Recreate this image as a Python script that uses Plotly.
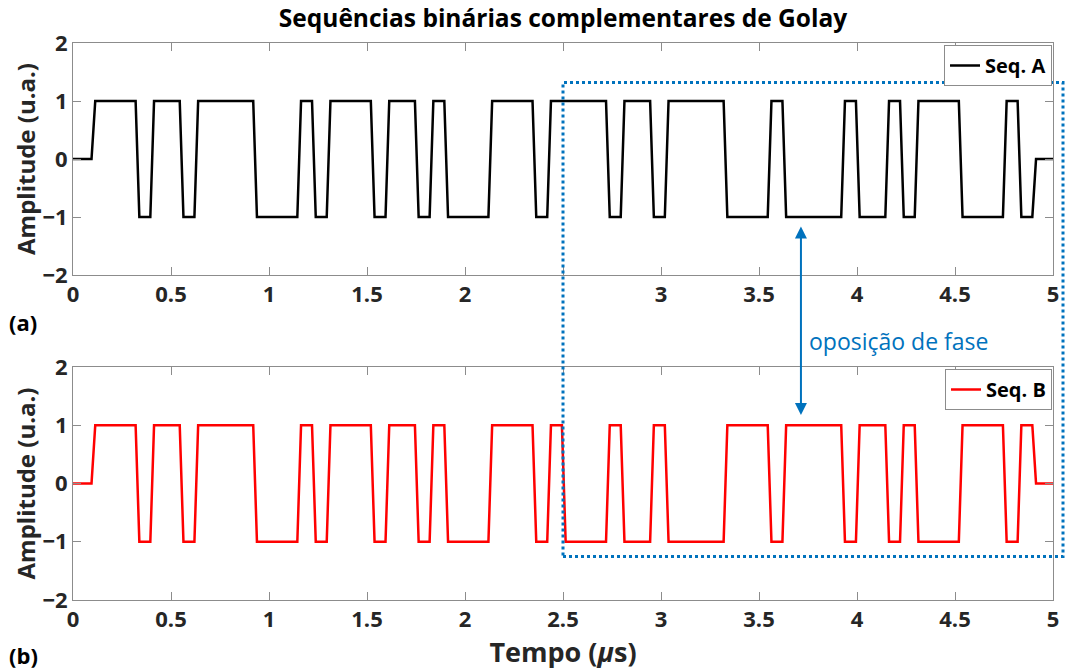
import plotly.graph_objects as go
from plotly.subplots import make_subplots

# Golay complementary pair, 64 chips each (+1 / -1)
seq_a = [1, 1, 1, -1, 1, 1, -1, 1, 1, 1, 1, -1, -1, -1, 1, -1,
         1, 1, 1, -1, 1, 1, -1, 1, -1, -1, -1, 1, 1, 1, -1, 1,
         1, 1, 1, -1, 1, 1, -1, 1, 1, 1, 1, -1, -1, -1, 1, -1,
         -1, -1, -1, 1, -1, -1, 1, -1, 1, 1, 1, -1, -1, -1, 1, -1]
seq_b = [1, 1, 1, -1, 1, 1, -1, 1, 1, 1, 1, -1, -1, -1, 1, -1,
         1, 1, 1, -1, 1, 1, -1, 1, -1, -1, -1, 1, 1, 1, -1, 1,
         -1, -1, -1, 1, -1, -1, 1, -1, -1, -1, -1, 1, 1, 1, -1, 1,
         1, 1, 1, -1, 1, 1, -1, 1, -1, -1, -1, 1, 1, 1, -1, 1]

t_start = 0.104      # us, first chip edge
chip_width = 0.075   # us
edge_time = 0.019    # us, rise/fall time of each transition
t_end = 5.0
t_opposition = 2.5   # us, where the two sequences become opposite
t_arrow = 3.714      # us

x_ticks = [0, 0.5, 1, 1.5, 2, 2.5, 3, 3.5, 4, 4.5, 5]
x_ticklabels_a = ["0", "0.5", "1", "1.5", "2", "", "3", "3.5", "4", "4.5", "5"]
x_ticklabels_b = ["0", "0.5", "1", "1.5", "2", "2.5", "3", "3.5", "4", "4.5", "5"]
y_ticks = [-2, -1, 0, 1, 2]


def waveform(chips):
    xs = [0.0, t_start - edge_time / 2]
    ys = [0, 0]
    for i, v in enumerate(chips):
        xs += [t_start + i * chip_width + edge_time / 2,
               t_start + (i + 1) * chip_width - edge_time / 2]
        ys += [v, v]
    xs += [t_start + len(chips) * chip_width + edge_time / 2, t_end]
    ys += [0, 0]
    return xs, ys


FONT = "Open Sans"
TXT = "#262626"
AX = "#8c8c8c"
BLUE = "#0072BD"

W, H = 1065, 671
ML, MR, MT, MB = 73, 12, 43, 71
PW, PH = W - ML - MR, H - MT - MB


def px_to_paper_y(py):
    return (H - MB - py) / PH


def px_to_paper_x(px):
    return (px - ML) / PW


fig = make_subplots(rows=2, cols=1, vertical_spacing=0.0)

xa, ya = waveform(seq_a)
xb, yb = waveform(seq_b)
fig.add_trace(go.Scatter(x=xa, y=ya, mode="lines", name="Seq. A",
                         line=dict(color="black", width=2.5), legend="legend"),
              row=1, col=1)
fig.add_trace(go.Scatter(x=xb, y=yb, mode="lines", name="Seq. B",
                         line=dict(color="#ff0000", width=2.5), legend="legend2"),
              row=2, col=1)

tickfont = dict(family=FONT, size=22, color=TXT, weight="bold")
axis_common = dict(showgrid=False, zeroline=False, showline=True, linecolor=AX,
                   linewidth=1, mirror="allticks", ticks="inside", ticklen=8,
                   tickcolor=AX, tickfont=tickfont, automargin=False)

fig.update_xaxes(range=[0, t_end], tickvals=x_ticks, **axis_common)
fig.update_xaxes(ticktext=x_ticklabels_a, row=1, col=1)
fig.update_xaxes(ticktext=x_ticklabels_b, row=2, col=1,
                 title=dict(text="Tempo (<i>μ</i>s)", standoff=2,
                            font=dict(family=FONT, size=27, color=TXT, weight="bold")))
fig.update_yaxes(range=[-2, 2], tickvals=y_ticks, **axis_common,
                 title=dict(text="Amplitude (u.a.)", standoff=0,
                            font=dict(family=FONT, size=24, color=TXT, weight="bold")))

# panel heights in paper units
fig.layout.yaxis.domain = [px_to_paper_y(275), 1.0]
fig.layout.yaxis2.domain = [0.0, px_to_paper_y(367)]

legend_style = dict(font=dict(family=FONT, size=20, color="black", weight="bold"),
                    bgcolor="white", bordercolor=AX, borderwidth=1,
                    xanchor="right", yanchor="top", x=0.999,
                    itemwidth=30, tracegroupgap=0)

fig.update_layout(
    width=W, height=H,
    margin=dict(l=ML, r=MR, t=MT, b=MB),
    paper_bgcolor="white", plot_bgcolor="white",
    showlegend=True,
    legend=dict(**legend_style, y=px_to_paper_y(45)),
    legend2=dict(**legend_style, y=px_to_paper_y(369)),
    title=dict(text="Sequências binárias complementares de Golay",
               x=0.5, xref="paper", xanchor="center", y=0.973, yanchor="middle",
               font=dict(family=FONT, size=24.5, color="black", weight="bold")),
)

# dotted box around the second half of both sequences
fig.add_shape(type="rect", xref="paper", yref="paper",
              x0=t_opposition / t_end, x1=px_to_paper_x(1063),
              y0=px_to_paper_y(556.5), y1=px_to_paper_y(82.5),
              line=dict(color=BLUE, width=3, dash="3px,3px"))

# double-headed arrow between the panels
fig.add_annotation(x=t_arrow, y=px_to_paper_y(415), xref="x", yref="paper",
                   ax=0, ay=-190, axref="pixel", ayref="pixel",
                   text="", showarrow=True, arrowside="end+start",
                   arrowhead=2, arrowsize=1.2, arrowwidth=2, arrowcolor=BLUE)
fig.add_annotation(x=px_to_paper_x(807), y=px_to_paper_y(341), xref="paper", yref="paper",
                   text="oposição de fase", showarrow=False,
                   xanchor="left", yanchor="middle",
                   font=dict(family=FONT, size=23, color=BLUE))

# panel labels
for label, ypx in (("(a)", 322), ("(b)", 655)):
    fig.add_annotation(x=px_to_paper_x(23), y=px_to_paper_y(ypx), xref="paper", yref="paper",
                       text=f"<b>{label}</b>", showarrow=False,
                       xanchor="center", yanchor="middle",
                       font=dict(family=FONT, size=22, color="black"))

fig.write_html("out.html")
